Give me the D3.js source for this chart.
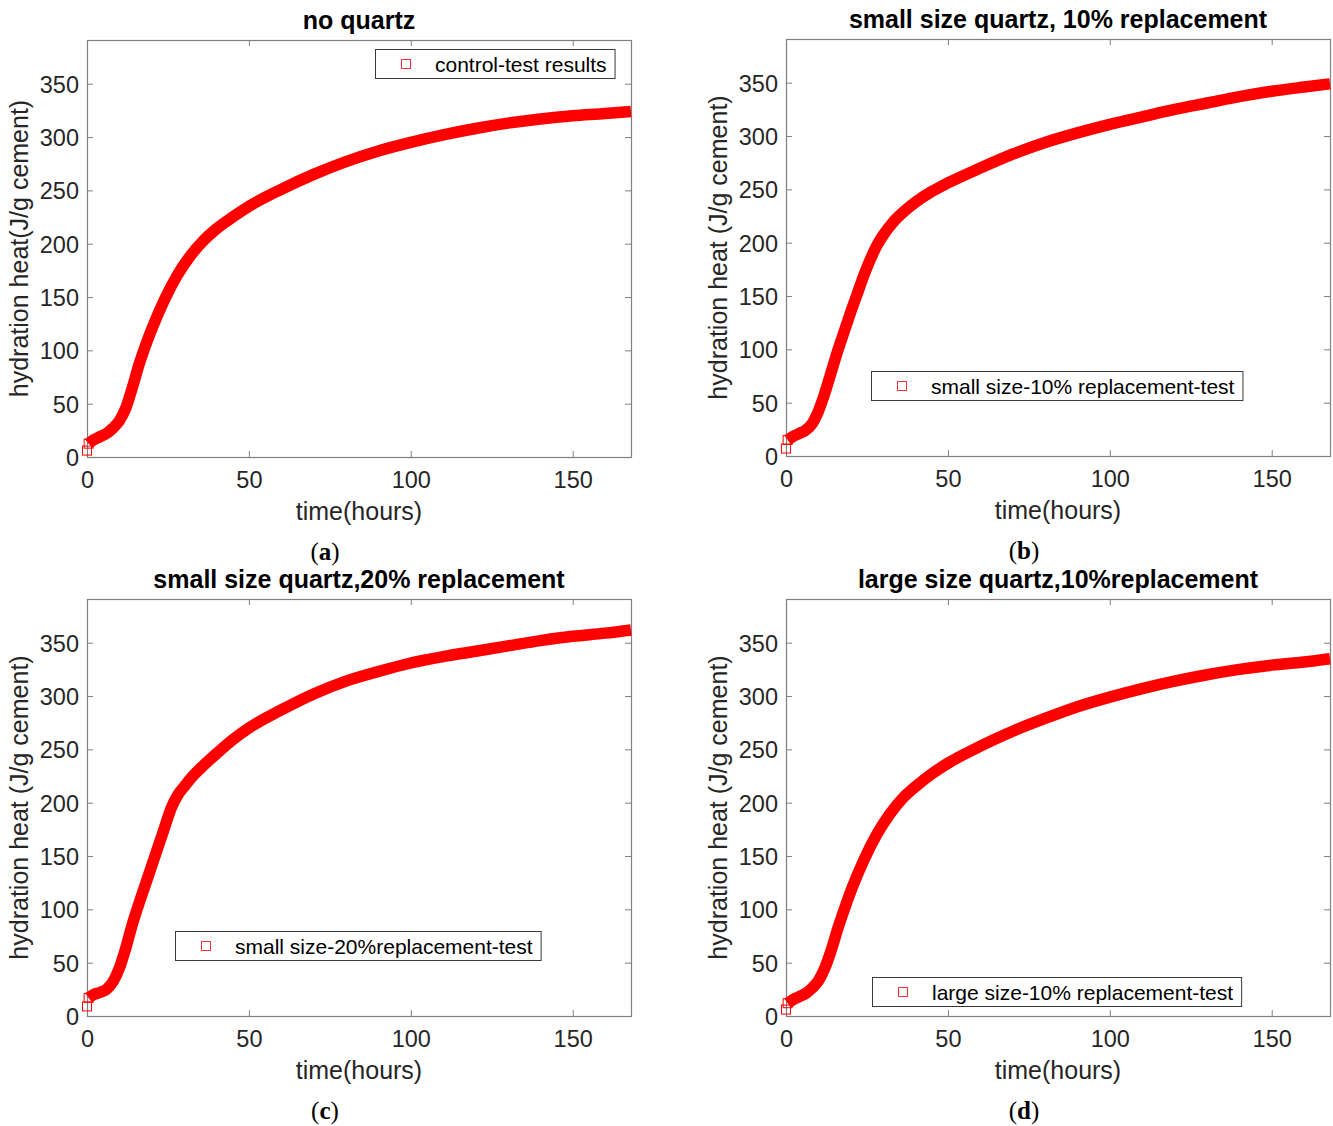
<!DOCTYPE html>
<html>
<head>
<meta charset="utf-8">
<script src="https://cdn.jsdelivr.net/npm/d3@7/dist/d3.min.js"></script>
<style>
  html, body { margin: 0; padding: 0; background: #fff; }
  svg { display: block; }
</style>
</head>
<body>
<svg id="chart" width="1333" height="1126"></svg>
<script>
// Cumulative hydration heat of cement pastes over the first week (168 h)

const panelTitles = [
  "no quartz",
  "small size quartz, 10% replacement",
  "small size quartz,20% replacement",
  "large size quartz,10%replacement"
];
const panelTags = ["a", "b", "c", "d"];
const legendLabels = [
  "control-test results",
  "small size-10% replacement-test",
  "small size-20%replacement-test",
  "large size-10% replacement-test"
];
const yLabels = [
  "hydration heat(J/g cement)",
  "hydration heat (J/g cement)",
  "hydration heat (J/g cement)",
  "hydration heat (J/g cement)"
];
const xLabel = "time(hours)";
const xTicks = [0, 50, 100, 150];
const yTicks = [0, 50, 100, 150, 200, 250, 300, 350];

// time of each reading, hours
const hoursA = [0, 0.5, 2, 4, 6, 8, 10, 12, 14, 16, 18, 20, 24, 28, 32, 36, 40, 45, 50, 60, 70, 80, 90, 100, 110, 120, 130, 140, 150, 160, 168];
const hoursB = [0, 0.5, 2, 4, 6, 8, 10, 12, 14, 16, 18, 20, 22, 24, 26, 28, 30, 33, 36, 40, 45, 50, 60, 70, 80, 90, 100, 110, 120, 130, 140, 150, 160, 168];
const hoursC = [0, 0.5, 2, 4, 6, 8, 10, 12, 14, 16, 18, 20, 22, 24, 26, 28, 30, 33, 36, 40, 45, 50, 60, 70, 80, 90, 100, 110, 120, 130, 140, 150, 160, 168];
const hoursD = [0, 0.5, 2, 4, 6, 8, 10, 12, 14, 16, 18, 20, 24, 28, 32, 36, 40, 45, 50, 60, 70, 80, 90, 100, 110, 120, 130, 140, 150, 160, 168];

// cumulative heat, J/g cement
const heatNoQuartz = [6, 12.5, 16, 19, 22, 27, 34, 46, 65, 86, 104, 120, 148, 171, 189, 203, 214, 225, 235, 251, 265, 277, 287, 295, 302, 308, 313, 317, 320, 322, 324];
const heatSmall10 = [7, 15, 18, 21, 24, 30, 42, 59, 79, 99, 117, 135, 152, 169, 184, 197, 207, 219, 228, 238, 248, 256, 270, 283, 294, 303, 311, 318, 325, 331, 337, 342, 346, 349];
const heatSmall20 = [9, 17, 20, 22, 25, 32, 45, 64, 86, 105, 123, 141, 159, 177, 195, 207, 215, 226, 235, 246, 259, 270, 287, 302, 314, 323, 331, 337, 342, 347, 352, 356, 359, 362];
const heatLarge10 = [6, 12, 15, 18, 21, 26, 33, 45, 62, 82, 100, 117, 146, 170, 189, 204, 215, 227, 237, 253, 267, 279, 290, 299, 307, 314, 320, 325, 329, 332, 335];

const seriesHours = [hoursA, hoursB, hoursC, hoursD];
const seriesHeat = [heatNoQuartz, heatSmall10, heatSmall20, heatLarge10];

// layout of the four axes and their legends
const axesBoxes = [
  { left: 87,  top: 40, width: 544, height: 417 },
  { left: 786, top: 39, width: 544, height: 417 },
  { left: 87,  top: 599, width: 544, height: 417 },
  { left: 786, top: 599, width: 544, height: 417 }
];
const legendSpots = [
  { x: 375, y: 49 },
  { x: 871, y: 371 },
  { x: 175, y: 931 },
  { x: 872, y: 977 }
];

const X_MAX = 168, Y_MAX = 391;
const sans = "'Liberation Sans', Arial, Helvetica, sans-serif";
const serif = "'Liberation Serif', 'DejaVu Serif', serif";
const axisGray = "#808080";
const textDark = "#262626";
const red = "#ff0000";

const svg = d3.select("#chart");

panelTitles.forEach((title, p) => {
  const box = axesBoxes[p];
  const g = svg.append("g").attr("transform", `translate(${box.left},${box.top})`);

  const x = d3.scaleLinear().domain([0, X_MAX]).range([0, box.width]);
  const y = d3.scaleLinear().domain([0, Y_MAX]).range([box.height, 0]);

  // axes box with inward ticks on all four sides
  const tickLen = 6;
  const styleAxis = sel => {
    sel.select(".domain").remove();
    sel.selectAll(".tick line").attr("stroke", axisGray).attr("stroke-width", 1);
    sel.selectAll(".tick text")
      .attr("fill", textDark)
      .style("font-family", sans)
      .style("font-size", "23.5px");
  };

  g.append("g")
    .attr("transform", `translate(0,${box.height})`)
    .call(d3.axisBottom(x).tickValues(xTicks).tickFormat(d3.format("d"))
      .tickSizeInner(-tickLen).tickSizeOuter(0).tickPadding(8))
    .call(styleAxis)
    .call(sel => sel.selectAll(".tick text").attr("y", 31).attr("dy", null));
  g.append("g")
    .call(d3.axisTop(x).tickValues(xTicks).tickFormat("")
      .tickSizeInner(-tickLen).tickSizeOuter(0))
    .call(styleAxis);
  g.append("g")
    .call(d3.axisLeft(y).tickValues(yTicks).tickFormat(d3.format("d"))
      .tickSizeInner(-tickLen).tickSizeOuter(0).tickPadding(8))
    .call(styleAxis)
    .call(sel => sel.selectAll(".tick text").attr("x", -8).attr("dy", "0.36em"));
  g.append("g")
    .attr("transform", `translate(${box.width},0)`)
    .call(d3.axisRight(y).tickValues(yTicks).tickFormat("")
      .tickSizeInner(-tickLen).tickSizeOuter(0))
    .call(styleAxis);

  g.append("rect")
    .attr("x", 0.5).attr("y", 0.5)
    .attr("width", box.width).attr("height", box.height)
    .attr("fill", "none")
    .attr("stroke", axisGray)
    .attr("stroke-width", 1.2);

  // heat curve: densely packed readings form a solid band
  const pts = seriesHours[p].map((h, i) => ({ h, q: seriesHeat[p][i] }));
  const line = d3.line().x(d => x(d.h)).y(d => y(d.q)).curve(d3.curveMonotoneX);
  g.append("path")
    .datum(pts.slice(1))
    .attr("d", line)
    .attr("fill", "none")
    .attr("stroke", red)
    .attr("stroke-width", 11.5)
    .attr("stroke-linejoin", "round");

  // the first reading sits just below the band as an open square
  const m = 9;
  g.selectAll("rect.mk")
    .data(pts.slice(0, 2))
    .join("rect")
    .attr("class", "mk")
    .attr("x", d => x(d.h) - m / 2)
    .attr("y", d => y(d.q) - m / 2)
    .attr("width", m).attr("height", m)
    .attr("fill", "none")
    .attr("stroke", red)
    .attr("stroke-width", 1);

  // title
  g.append("text")
    .attr("x", box.width / 2).attr("y", -11)
    .attr("text-anchor", "middle")
    .attr("fill", "#000")
    .style("font-family", sans)
    .style("font-size", "25px")
    .style("font-weight", "bold")
    .text(title);

  // axis labels
  g.append("text")
    .attr("x", box.width / 2).attr("y", box.height + 63)
    .attr("text-anchor", "middle")
    .attr("fill", textDark)
    .style("font-family", sans)
    .style("font-size", "25px")
    .text(xLabel);
  g.append("text")
    .attr("transform", `translate(-59,${box.height / 2}) rotate(-90)`)
    .attr("text-anchor", "middle")
    .attr("fill", textDark)
    .style("font-family", sans)
    .style("font-size", "25px")
    .text(yLabels[p]);

  // panel tag, e.g. (a)
  const tag = g.append("text")
    .attr("x", box.width / 2 - 34).attr("y", box.height + 103)
    .attr("text-anchor", "middle")
    .attr("fill", "#000")
    .style("font-family", serif)
    .style("font-size", "25px");
  tag.append("tspan").text("(");
  tag.append("tspan").style("font-weight", "bold").text(panelTags[p]);
  tag.append("tspan").text(")");

  // legend
  const spot = legendSpots[p];
  const lg = svg.append("g").attr("transform", `translate(${spot.x},${spot.y})`);
  const lgBox = lg.append("rect")
    .attr("x", 0.5).attr("y", 0.5).attr("height", 29)
    .attr("fill", "#fff")
    .attr("stroke", "#3a3a3a")
    .attr("stroke-width", 1);
  lg.append("rect")
    .attr("x", 31 - 4.5).attr("y", 15 - 4.5)
    .attr("width", 9).attr("height", 9)
    .attr("fill", "none")
    .attr("stroke", "#ff3030")
    .attr("stroke-width", 1);
  const lt = lg.append("text")
    .attr("x", 60).attr("y", 22.5)
    .attr("fill", "#000")
    .style("font-family", sans)
    .style("font-size", "21px")
    .text(legendLabels[p]);
  lgBox.attr("width", 60 + lt.node().getComputedTextLength() + 8);
});
</script>
</body>
</html>
